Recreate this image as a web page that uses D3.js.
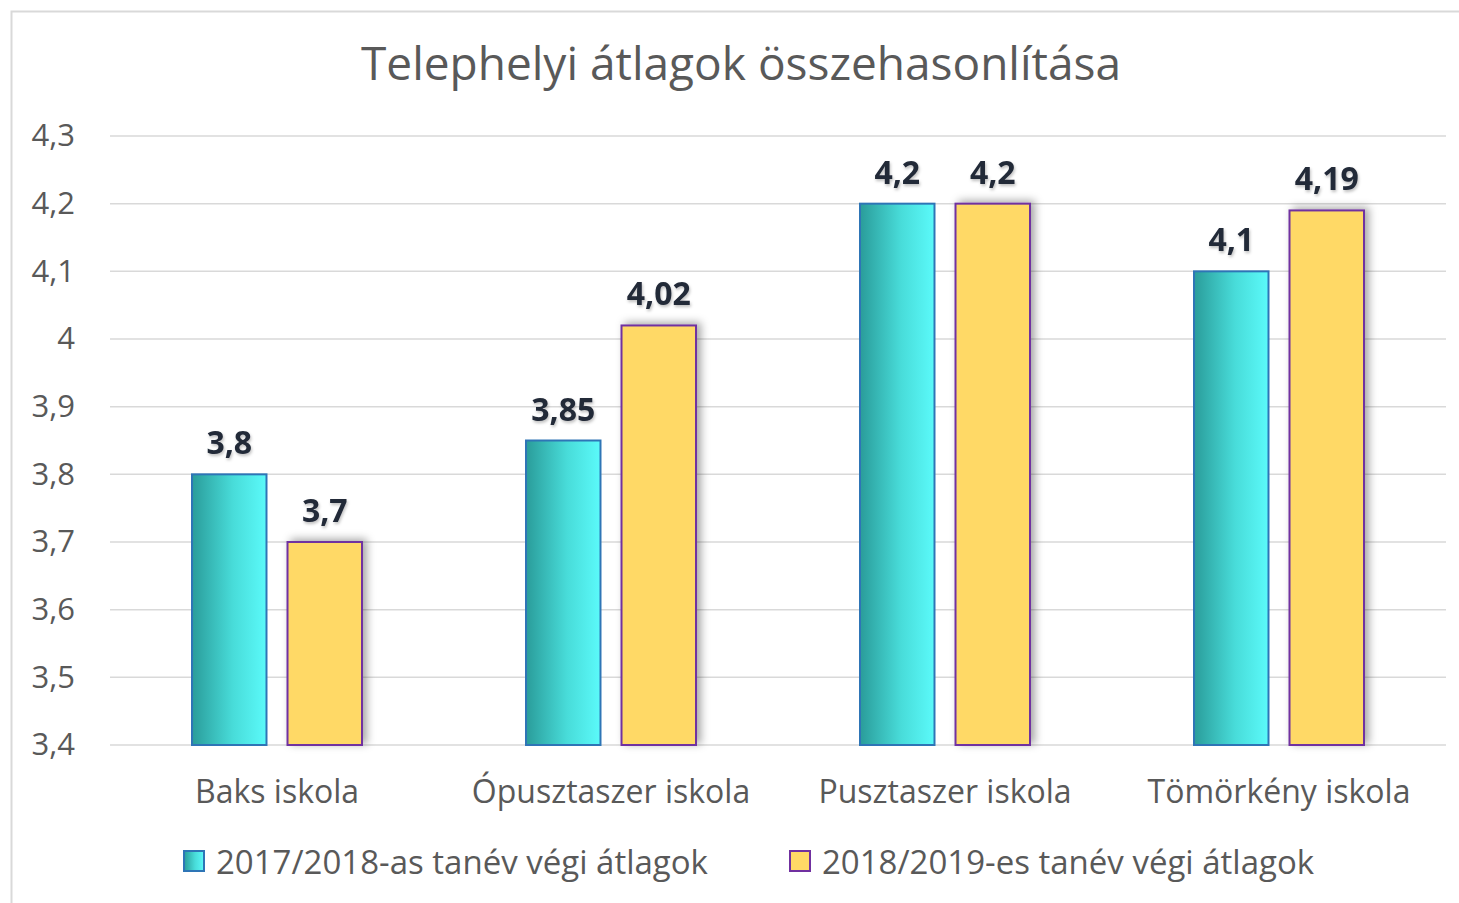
<!DOCTYPE html>
<html>
<head>
<meta charset="utf-8">
<script src="https://cdn.jsdelivr.net/npm/d3@7"></script>
<style>
  body { margin: 0; background: #fff; }
  text { font-family: "Open Sans", Lato, sans-serif; }
</style>
</head>
<body>
<script>
var categories = ['Baks iskola', 'Ópusztaszer iskola', 'Pusztaszer iskola', 'Tömörkény iskola'];
var seriesNames = ['2017/2018-as tanév végi átlagok', '2018/2019-es tanév végi átlagok'];
var values2017 = [3.8, 3.85, 4.2, 4.1];
var values2018 = [3.7, 4.02, 4.2, 4.19];
var yTicks = [3.4, 3.5, 3.6, 3.7, 3.8, 3.9, 4, 4.1, 4.2, 4.3];

var fmt = function (v) { return String(v).replace('.', ','); };

var svg = d3.select('body').append('svg')
  .attr('width', 1459)
  .attr('height', 903);

var defs = svg.append('defs');
var grad = defs.append('linearGradient').attr('id', 'teal')
  .attr('x1', '0%').attr('x2', '100%').attr('y1', '0%').attr('y2', '0%');
grad.append('stop').attr('offset', '0%').attr('stop-color', '#2a9c9a');
grad.append('stop').attr('offset', '55%').attr('stop-color', '#48dcd9');
grad.append('stop').attr('offset', '100%').attr('stop-color', '#5bfafa');

var shadow = defs.append('filter').attr('id', 'shadow')
  .attr('x', '-20%').attr('y', '-20%').attr('width', '150%').attr('height', '150%');
shadow.append('feDropShadow').attr('dx', 4).attr('dy', -2).attr('stdDeviation', 4)
  .attr('flood-color', '#000').attr('flood-opacity', 0.35);

var lblShadow = defs.append('filter').attr('id', 'lblshadow');
lblShadow.append('feDropShadow').attr('dx', 1).attr('dy', 2).attr('stdDeviation', 1.5)
  .attr('flood-color', '#000').attr('flood-opacity', 0.25);

// frame
svg.append('rect')
  .attr('x', 11.5).attr('y', 11.5)
  .attr('width', 1460).attr('height', 900)
  .attr('fill', 'none')
  .attr('stroke', '#d9d9d9')
  .attr('stroke-width', 2);

var margin = { left: 110, right: 13, top: 136, bottom: 158 };
var width = 1459 - margin.left - margin.right,
  height = 903 - margin.top - margin.bottom;

var g = svg.append('g').attr('transform', 'translate(' + margin.left + ',' + margin.top + ')');

var x = d3.scaleBand().domain(categories).range([0, width]);
var xs = d3.scaleBand().domain([0, 1]).range([82, x.bandwidth() - 82]).paddingInner(0.22);
var y = d3.scaleLinear().domain([3.4, 4.3]).range([height, 0]);

// gridlines
g.append('g').selectAll('line')
  .data(yTicks)
  .enter().append('line')
  .attr('x1', 0).attr('x2', width)
  .attr('y1', function (d) { return y(d); })
  .attr('y2', function (d) { return y(d); })
  .attr('stroke', '#d9d9d9')
  .attr('stroke-width', 1.5);

// y axis
var yAxis = g.append('g')
  .call(d3.axisLeft(y).tickValues(yTicks).tickSize(0).tickPadding(35).tickFormat(fmt));
yAxis.select('.domain').remove();
yAxis.selectAll('text')
  .attr('fill', '#595959')
  .style('font-size', '31px')
  .style('font-family', '"Open Sans", sans-serif');

// x axis labels
var xAxis = g.append('g')
  .attr('transform', 'translate(0,' + height + ')')
  .call(d3.axisBottom(x).tickSize(0).tickPadding(35));
xAxis.select('.domain').remove();
xAxis.selectAll('text')
  .attr('fill', '#595959')
  .style('font-size', '32px')
  .style('font-family', '"Open Sans", sans-serif');

var data = categories.map(function (c, i) {
  return { cat: c, vals: [values2017[i], values2018[i]] };
});

var groups = g.selectAll('.grp')
  .data(data)
  .enter().append('g')
  .attr('class', 'grp')
  .attr('transform', function (d) { return 'translate(' + x(d.cat) + ',0)'; });

var fills = ['url(#teal)', '#ffd966'];
var strokes = ['#2e75b6', '#7030a0'];

groups.selectAll('rect')
  .data(function (d) { return d.vals.map(function (v, i) { return { v: v, s: i }; }); })
  .enter().append('rect')
  .attr('x', function (d) { return xs(d.s); })
  .attr('y', function (d) { return y(d.v); })
  .attr('width', xs.bandwidth())
  .attr('height', function (d) { return height - y(d.v); })
  .attr('fill', function (d) { return fills[d.s]; })
  .attr('stroke', function (d) { return strokes[d.s]; })
  .attr('stroke-width', 2)
  .attr('filter', function (d) { return d.s === 1 ? 'url(#shadow)' : null; });

groups.selectAll('.val')
  .data(function (d) { return d.vals.map(function (v, i) { return { v: v, s: i }; }); })
  .enter().append('text')
  .attr('class', 'val')
  .attr('x', function (d) { return xs(d.s) + xs.bandwidth() / 2; })
  .attr('y', function (d) { return y(d.v) - 20; })
  .attr('text-anchor', 'middle')
  .attr('fill', '#222a38')
  .attr('filter', 'url(#lblshadow)')
  .style('font-size', '32px')
  .style('font-weight', 'bold')
  .text(function (d) { return fmt(d.v); });

// title
svg.append('text')
  .attr('x', 741)
  .attr('y', 80)
  .attr('text-anchor', 'middle')
  .attr('fill', '#595959')
  .style('font-size', '46px')
  .text('Telephelyi átlagok összehasonlítása');

// legend
var legendX = [184, 790];
var legend = svg.append('g').selectAll('g')
  .data(seriesNames)
  .enter().append('g')
  .attr('transform', function (d, i) { return 'translate(' + legendX[i] + ',851)'; });

legend.append('rect')
  .attr('width', 20).attr('height', 20)
  .attr('fill', function (d, i) { return fills[i]; })
  .attr('stroke', function (d, i) { return strokes[i]; })
  .attr('stroke-width', 2);

legend.append('text')
  .attr('x', 32)
  .attr('y', 23)
  .attr('fill', '#595959')
  .style('font-size', '33px')
  .text(function (d) { return d; });
</script>
</body>
</html>
